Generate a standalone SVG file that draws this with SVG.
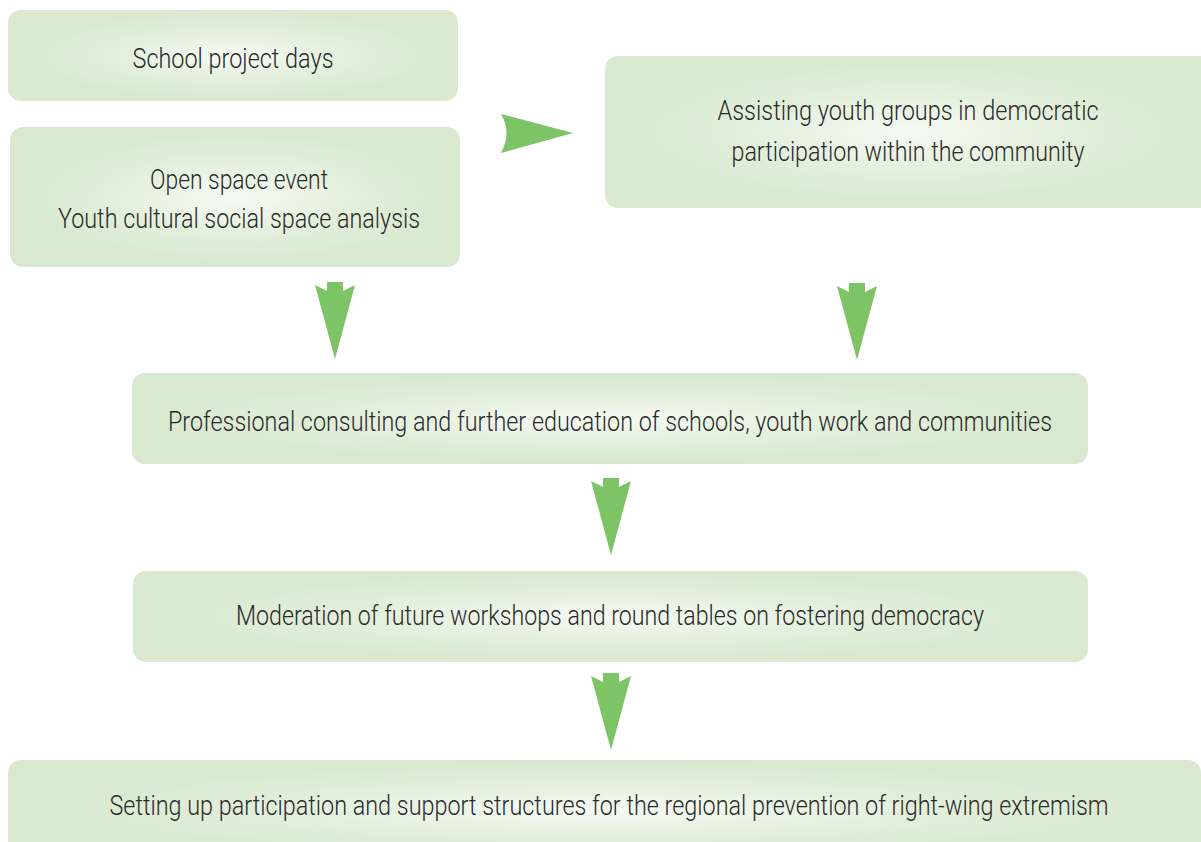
<svg xmlns="http://www.w3.org/2000/svg" xmlns:xlink="http://www.w3.org/1999/xlink" width="1201" height="842" viewBox="0 0 1201 842">
<style>
.box{fill:url(#g);}
.t{font-family:"Roboto","Liberation Sans Narrow","Liberation Sans",sans-serif;font-weight:300;font-size:28px;fill:#2a2a2a;text-anchor:middle;}
.arr{fill:#7cc466;}
</style>
<defs>
<radialGradient id="g" cx="0.5" cy="0.5" r="0.5">
<stop offset="0" stop-color="#f6faf3"/>
<stop offset="0.55" stop-color="#e2efdb"/>
<stop offset="1" stop-color="#d8e9cf"/>
</radialGradient>
<path id="down" d="M-8,0 H8 V9 L20,3 L0,77 L-20,3 L-8,9 Z"/>
</defs>
<rect width="1201" height="842" fill="#ffffff"/>
<g id="connectors" class="arr">
<path d="M501,114 L573,133 L501,153 Q512,133 501,114 Z"/>
<use xlink:href="#down" transform="translate(335,282)"/>
<use xlink:href="#down" transform="translate(857,283)"/>
<use xlink:href="#down" transform="translate(611,478)"/>
<use xlink:href="#down" transform="translate(611,673)"/>
</g>
<g id="school-project-days">
<rect class="box" x="8" y="10" width="450" height="91" rx="13"/>
<text class="t" transform="scale(0.75,1)" x="310.7" y="68" textLength="268" lengthAdjust="spacingAndGlyphs">School project days</text>
</g>
<g id="open-space">
<rect class="box" x="10" y="127" width="450" height="140" rx="13"/>
<text class="t" transform="scale(0.75,1)" x="318.7" y="189" textLength="237.3" lengthAdjust="spacingAndGlyphs">Open space event</text>
<text class="t" transform="scale(0.75,1)" x="318.7" y="228" textLength="482.7" lengthAdjust="spacingAndGlyphs">Youth cultural social space analysis</text>
</g>
<g id="assisting-youth">
<rect class="box" x="605" y="56" width="610" height="152" rx="13"/>
<text class="t" transform="scale(0.75,1)" x="1210.7" y="120" textLength="508" lengthAdjust="spacingAndGlyphs">Assisting youth groups in democratic</text>
<text class="t" transform="scale(0.75,1)" x="1210.7" y="161" textLength="470.7" lengthAdjust="spacingAndGlyphs">participation within the community</text>
</g>
<g id="professional-consulting">
<rect class="box" x="132" y="373" width="956" height="91" rx="13"/>
<text class="t" transform="scale(0.75,1)" x="813.3" y="431" textLength="1178.7" lengthAdjust="spacingAndGlyphs">Professional consulting and further education of schools, youth work and communities</text>
</g>
<g id="moderation">
<rect class="box" x="133" y="571" width="955" height="91" rx="13"/>
<text class="t" transform="scale(0.75,1)" x="813.3" y="625" textLength="997.3" lengthAdjust="spacingAndGlyphs">Moderation of future workshops and round tables on fostering democracy</text>
</g>
<g id="setting-up">
<rect class="box" x="8" y="760" width="1193" height="100" rx="13"/>
<text class="t" transform="scale(0.75,1)" x="812" y="815" textLength="1332" lengthAdjust="spacingAndGlyphs">Setting up participation and support structures for the regional prevention of right-wing extremism</text>
</g>
</svg>
